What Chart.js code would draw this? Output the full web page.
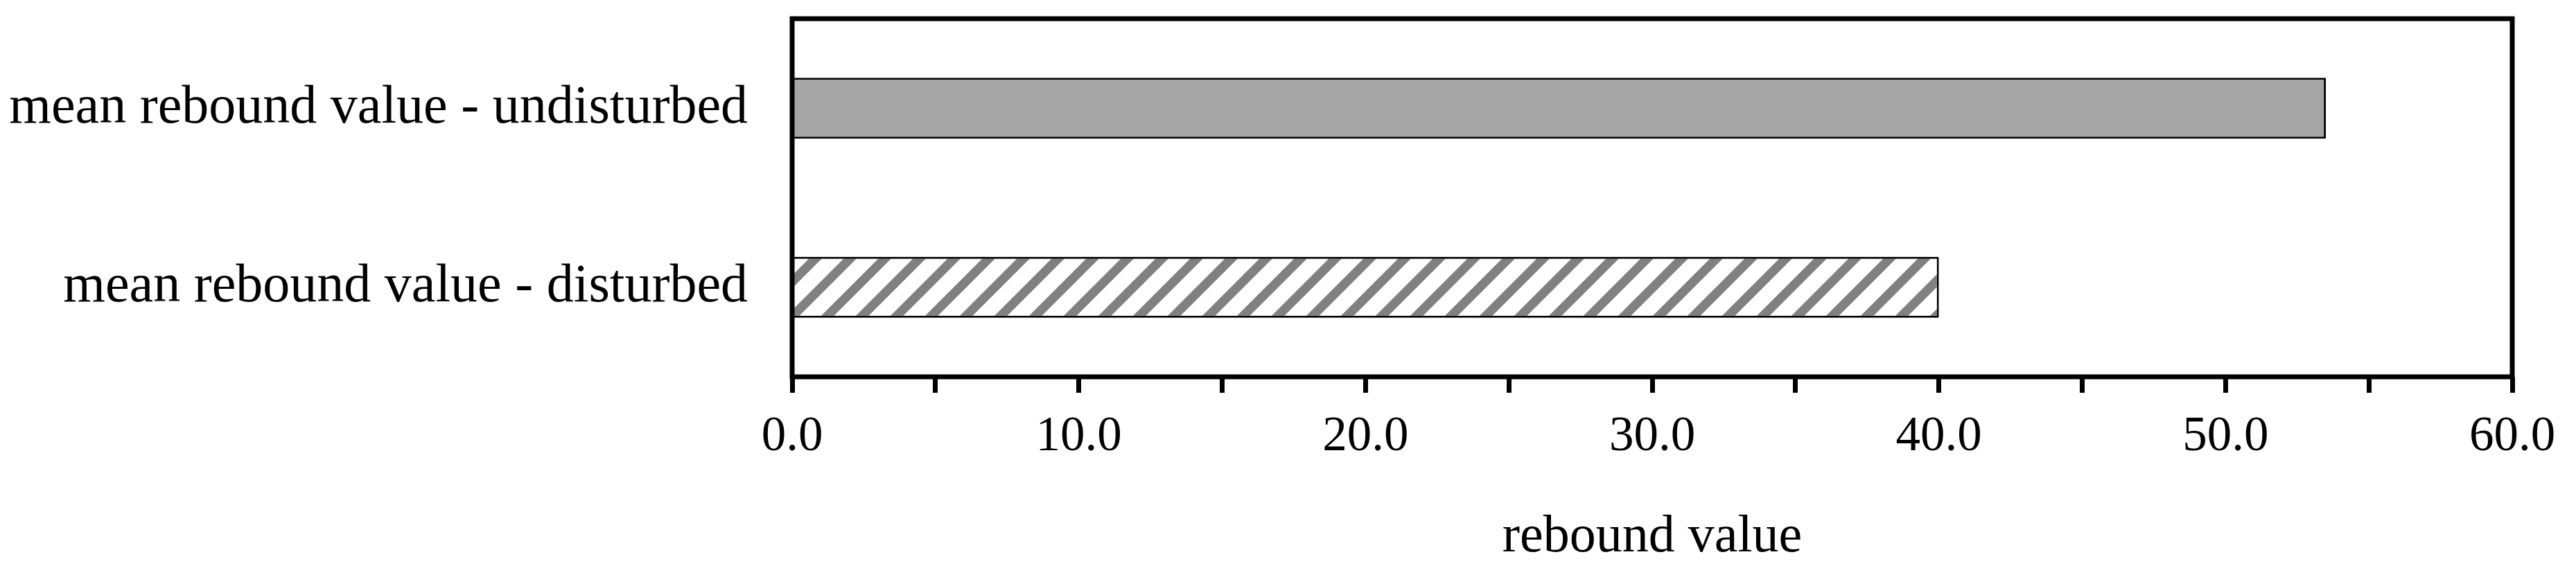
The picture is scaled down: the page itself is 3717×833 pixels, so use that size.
<!DOCTYPE html>
<html>
<head>
<meta charset="utf-8">
<script src="https://cdnjs.cloudflare.com/ajax/libs/Chart.js/4.4.1/chart.umd.min.js"></script>
<style>
    html, body { margin:0; padding:0; background:#fff; }
</style>
</head>
<body>
<canvas id="chart0" width="3717" height="833"></canvas>

<script>

// values
var categories = ['mean rebound value - undisturbed', 'mean rebound value - disturbed'];
var reboundValues = [53.5, 40.0];
var xMin = 0, xMax = 60, xStep = 5, xLabelEvery = 10;
var xTitle = 'rebound value';

var serif = 'Liberation Serif';

    function hatchPattern(){
        // 45 deg gray stripes on white, like the excel fill
        var c = document.createElement('canvas');
        c.width = 50; c.height = 50;
        var g = c.getContext('2d');
        g.fillStyle = '#ffffff';
        g.fillRect(0, 0, 50, 50);
        g.strokeStyle = '#808080';
        g.lineWidth = 13;
        g.beginPath();
        g.moveTo(-25, 25); g.lineTo(25, -25);
        g.moveTo(0, 50); g.lineTo(50, 0);
        g.moveTo(25, 75); g.lineTo(75, 25);
        g.stroke();
        return g.createPattern(c, 'repeat');
    }

    // box round the plot area
    var framePlugin = {
        id: 'frame',
        afterDatasetsDraw: function(chart){
            var a = chart.chartArea, ctx = chart.ctx;
            ctx.save();
            ctx.strokeStyle = '#000';
            ctx.lineWidth = 7;
            ctx.strokeRect(a.left, a.top, a.right - a.left, a.bottom - a.top);
            ctx.restore();
        }
    };

var ctx = document.getElementById('chart0');
charts = {};

charts[0] = new Chart(ctx, {
    type: 'bar',
    data: {
        labels: categories,
        datasets: [{
            data: reboundValues,
            backgroundColor: ['#a6a6a6', hatchPattern()],
            borderColor: '#000',
            borderWidth: 3,
            barPercentage: 0.34,
            categoryPercentage: 1.0
        }]
    },
    options: {
        indexAxis: 'y',
        responsive: false,
        devicePixelRatio: 1,
        animation: false,
        layout: { autoPadding: false, padding: { top: 27, right: 92, left: 0, bottom: 0 } },
        plugins: { legend: { display: false }, tooltip: { enabled: false } },
        scales: {
            x: {
                min: xMin, max: xMax,
                afterFit: function(s){ s.height = 289; s.paddingLeft = 0; s.paddingRight = 0; },
                border: { display: false },
                grid: { display: true, drawOnChartArea: false, drawTicks: true, tickLength: 23, tickWidth: 7, tickColor: '#000' },
                ticks: {
                    stepSize: xStep, autoSkip: false, maxRotation: 0, padding: 22,
                    color: '#000', font: { family: serif, size: 71 },
                    callback: function(v){ return v % xLabelEvery === 0 ? v.toFixed(1) : ''; }
                },
                title: {
                    display: true, text: xTitle, color: '#000',
                    font: { family: serif, size: 76 },
                    padding: { top: 0, bottom: 11 }
                }
            },
            y: {
                // tick padding was pushing the plot top down, kill it here
                afterFit: function(s){ s.width = 1143; s.paddingTop = 0; s.paddingBottom = 0; },
                border: { display: false },
                grid: { display: false, drawTicks: false },
                ticks: { padding: 64, color: '#000', font: { family: serif, size: 78 } }
            }
        }
    },
    plugins: [framePlugin]
});

</script>
</body>
</html>
